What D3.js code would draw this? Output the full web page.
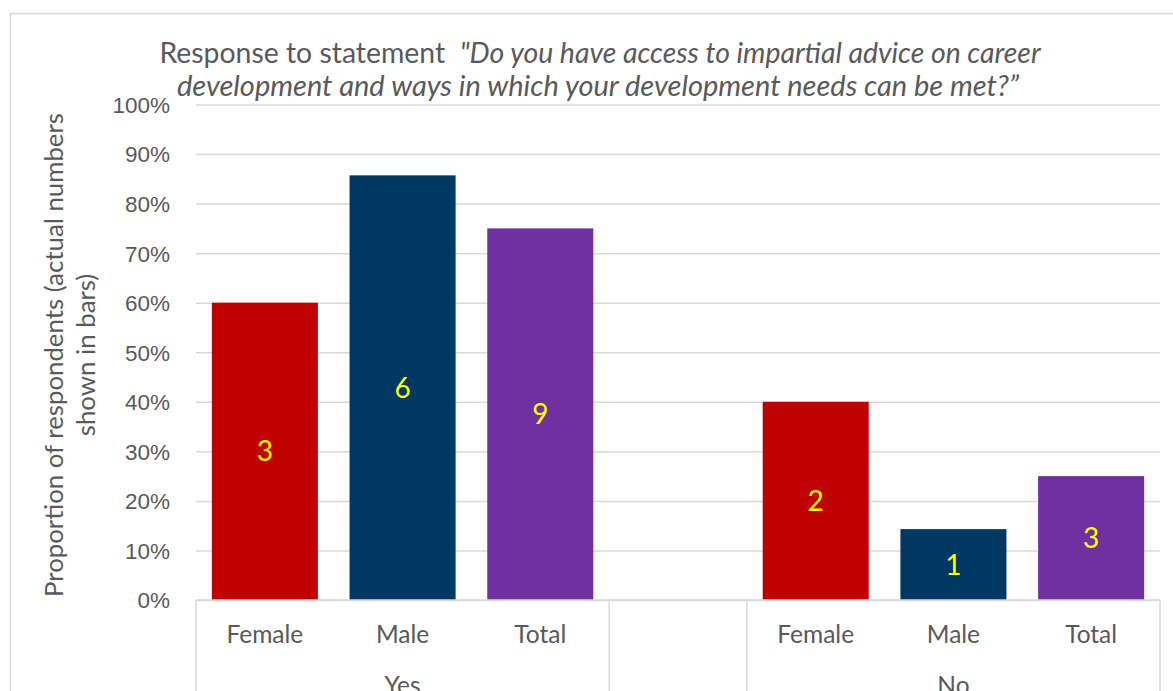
<!DOCTYPE html>
<html>
<head>
<meta charset="utf-8">
<script src="https://cdn.jsdelivr.net/npm/d3@7"></script>
<style>
  html, body { margin: 0; padding: 0; background: #ffffff; }
  svg { display: block; font-family: Lato, "Open Sans", sans-serif; }
</style>
</head>
<body>
<svg id="chart" width="1173" height="691"></svg>
<script>
// Response groups and the respondent groups within each
const responses = ["Yes", "No"];
const groups = ["Female", "Male", "Total"];

// Share of respondents giving each response (percent)
const yesShare = [60, 85.7, 75];
const noShare = [40, 14.3, 25];

// Number of respondents behind each bar
const yesCount = [3, 6, 9];
const noCount = [2, 1, 3];

const groupColors = ["#C00000", "#003763", "#7030A0"];
const yTicks = [0, 10, 20, 30, 40, 50, 60, 70, 80, 90, 100];

const W = 1173, H = 691;
const plot = { left: 196, right: 1160, top: 104.5, bottom: 600 };
const textGrey = "#595959";
const lineGrey = "#D9D9D9";

// Slots along the axis: Yes group, an empty spacer slot, No group
const rows = [];
responses.forEach((resp, ri) => {
  const share = ri === 0 ? yesShare : noShare;
  const count = ri === 0 ? yesCount : noCount;
  groups.forEach((g, gi) => {
    rows.push({ key: resp + "|" + g, response: resp, group: g, gi, share: share[gi], count: count[gi] });
  });
  if (ri < responses.length - 1) rows.push({ key: "spacer" + ri, response: "", group: "", spacer: true });
});

const svg = d3.select("#chart");

// Chart frame
svg.append("rect")
  .attr("x", 10.5).attr("y", 13.5)
  .attr("width", 1200).attr("height", 700)
  .attr("fill", "#fff").attr("stroke", lineGrey).attr("stroke-width", 1.5);

const x = d3.scaleBand()
  .domain(rows.map(d => d.key))
  .range([plot.left, plot.right])
  .paddingInner(0.23)
  .paddingOuter(0.115);

const y = d3.scaleLinear()
  .domain([0, 100])
  .range([plot.bottom, plot.top]);

// Gridlines and value axis labels
const yAxis = d3.axisLeft(y)
  .tickValues(yTicks)
  .tickSize(-(plot.right - plot.left))
  .tickPadding(26)
  .tickFormat(d => d + "%");

const gy = svg.append("g")
  .attr("transform", `translate(${plot.left},0)`)
  .call(yAxis);
gy.select(".domain").remove();
gy.selectAll(".tick line").attr("stroke", lineGrey).attr("stroke-width", 1.5);
gy.selectAll(".tick text")
  .attr("fill", textGrey)
  .attr("font-size", 22.5)
  .attr("dy", "0.35em");

// Bars
svg.append("g").selectAll("rect")
  .data(rows.filter(d => !d.spacer))
  .join("rect")
  .attr("x", d => x(d.key))
  .attr("width", x.bandwidth())
  .attr("y", d => y(d.share))
  .attr("height", d => y(0) - y(d.share))
  .attr("fill", d => groupColors[d.gi]);

// Count labels in the middle of each bar
svg.append("g").selectAll("text")
  .data(rows.filter(d => !d.spacer))
  .join("text")
  .attr("x", d => x(d.key) + x.bandwidth() / 2)
  .attr("y", d => (y(d.share) + y(0)) / 2)
  .attr("dy", "0.36em")
  .attr("text-anchor", "middle")
  .attr("font-size", 28)
  .attr("fill", "#FFFF00")
  .text(d => d.count);

// Category axis: base line, group dividers, two label rows
const axisG = svg.append("g");
axisG.append("line")
  .attr("x1", plot.left).attr("x2", plot.right)
  .attr("y1", plot.bottom).attr("y2", plot.bottom)
  .attr("stroke", lineGrey).attr("stroke-width", 1.5);

const step = x.step();
const slotStart = d => x(d.key) - x.paddingInner() * step / 2;
const dividers = [plot.left];
rows.forEach((d, i) => {
  const next = rows[i + 1];
  if (next && (next.spacer || d.spacer)) dividers.push(slotStart(next));
});
dividers.push(plot.right);

axisG.selectAll("line.divider")
  .data(dividers)
  .join("line")
  .attr("class", "divider")
  .attr("x1", d => d).attr("x2", d => d)
  .attr("y1", plot.bottom).attr("y2", H + 5)
  .attr("stroke", lineGrey).attr("stroke-width", 1.5);

axisG.selectAll("text.sub")
  .data(rows.filter(d => !d.spacer))
  .join("text")
  .attr("class", "sub")
  .attr("x", d => x(d.key) + x.bandwidth() / 2)
  .attr("y", 643)
  .attr("text-anchor", "middle")
  .attr("font-size", 24.5)
  .attr("fill", textGrey)
  .text(d => d.group);

axisG.selectAll("text.resp")
  .data(responses)
  .join("text")
  .attr("class", "resp")
  .attr("x", r => {
    const keys = groups.map(g => r + "|" + g);
    return (x(keys[0]) + x(keys[keys.length - 1]) + x.bandwidth()) / 2;
  })
  .attr("y", 694)
  .attr("text-anchor", "middle")
  .attr("font-size", 24.5)
  .attr("fill", textGrey)
  .text(r => r);

// Value axis title
const yTitle = svg.append("text")
  .attr("transform", "translate(0,355) rotate(-90)")
  .attr("text-anchor", "middle")
  .attr("font-size", 25.8)
  .attr("fill", textGrey);
yTitle.append("tspan").attr("x", 0).attr("y", 63).text("Proportion of respondents (actual numbers");
yTitle.append("tspan").attr("x", 0).attr("y", 95).text("shown in bars)");

// Chart title
const title = svg.append("text")
  .attr("text-anchor", "middle")
  .attr("fill", textGrey);
const t1 = title.append("tspan").attr("x", 600).attr("y", 63).attr("font-size", 28.4);
t1.append("tspan").text("Response to statement\u00A0\u00A0");
t1.append("tspan").attr("font-style", "italic").text("\"Do you have access to impartial advice on career");
title.append("tspan").attr("x", 598).attr("y", 96)
  .attr("font-size", 29)
  .attr("font-style", "italic")
  .text("development and ways in which your development needs can be met?\u201D");
</script>
</body>
</html>
